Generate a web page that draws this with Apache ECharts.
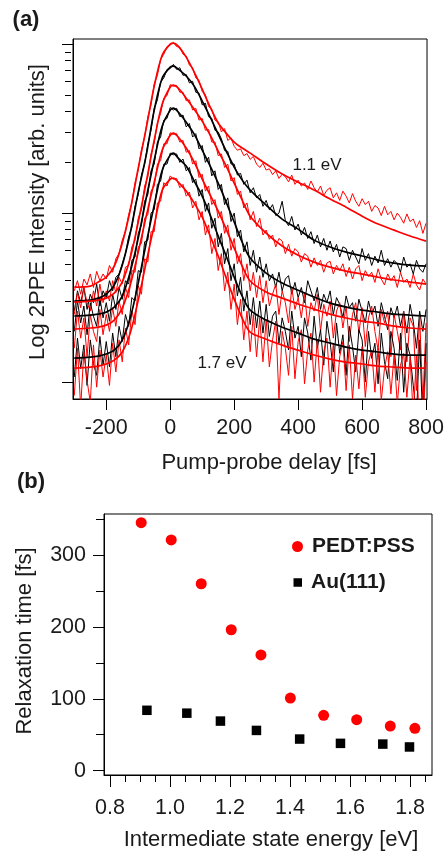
<!DOCTYPE html>
<html>
<head>
<meta charset="utf-8">
<script src="https://cdn.jsdelivr.net/npm/echarts@6/dist/echarts.min.js"></script>
<style>
html,body{margin:0;padding:0;background:#fff;}
#chart{width:447px;height:857px;}
</style>
</head>
<body>
<div id="chart"></div>
<script>
// ---------- Panel (a): log10 of 2PPE intensity, in milli-decades (arb. units) ----------
const delayFs = [-300,-290,-280,-270,-260,-250,-240,-230,-220,-210,-200,-190,-180,-170,-160,-150,-140,-130,-120,-110,-100,-90,-80,-70,-60,-50,-40,-30,-20,-10,0,10,20,30,40,50,60,70,80,90,100,110,120,130,140,150,160,170,180,190,200,210,220,230,240,250,260,270,280,290,300,310,320,330,340,350,360,370,380,390,400,410,420,430,440,450,460,470,480,490,500,510,520,530,540,550,560,570,580,590,600,610,620,630,640,650,660,670,680,690,700,710,720,730,740,750,760,770,780,790,800];

const trace11eV = [540,600,520,610,575,640,560,655,600,640,610,690,650,730,760,840,890,990,1060,1180,1255,1375,1450,1570,1640,1765,1815,1910,1940,1985,1995,2010,1985,1982,1940,1930,1875,1860,1800,1785,1720,1700,1630,1615,1550,1540,1480,1500,1430,1445,
  1395,1372,1380,1340,1352,1318,1335,1290,1270,1295,1255,1262,1228,1250,1205,1230,1215,1185,1225,1170,1195,1160,1178,1140,1190,1150,1125,1160,1105,1135,1150,1090,1120,1075,1130,1100,1060,1115,1070,1040,1085,1050,1070,1010,1045,1030,985,1040,990,1010,960,1000,975,940,995,950,965,915,955,880,940];
const trace12eV = [420,540,470,560,430,520,470,580,450,540,500,600,540,620,640,700,760,860,915,1040,1110,1225,1290,1410,1490,1620,1670,1775,1800,1850,1855,1880,1850,1860,1815,1820,1770,1780,1715,1710,1640,1650,1570,1560,1490,1480,1440,1370,1365,1290,
  1290,1225,1235,1170,1195,1120,1150,1090,1110,1040,1075,1020,1050,985,1000,1070,955,925,980,900,935,870,915,850,890,820,870,800,850,780,835,770,815,740,800,790,720,780,740,700,790,720,760,690,745,705,780,690,730,680,720,700,650,740,680,700,640,720,670,650,700];
const trace13eV = [400,530,440,560,470,420,540,450,580,470,540,480,600,530,620,580,680,690,800,840,970,1020,1160,1215,1350,1415,1535,1590,1680,1695,1760,1750,1755,1715,1715,1665,1670,1610,1620,1550,1560,1490,1495,1420,1420,1340,1350,1270,1290,1190,1210,1110,1130,1030,1060,960,1010,920,970,870,
  900,845,870,800,850,835,760,815,745,790,770,710,760,745,680,735,690,720,650,705,715,640,690,660,700,625,680,610,670,690,600,660,625,650,590,670,610,575,640,600,630,560,650,590,610,560,640,575,545,610,580];
const trace14eV = [300,480,350,450,280,470,390,330,500,380,470,360,520,430,560,490,600,580,720,740,880,930,1070,1110,1250,1290,1420,1450,1550,1560,1625,1610,1620,1570,1580,1510,1530,1450,1470,1380,1400,1300,1330,1220,1250,1140,1170,1050,1090,950,1000,860,900,770,830,690,780,650,740,620,
  700,600,640,560,650,540,610,630,520,590,500,560,470,600,540,480,560,430,520,470,540,400,500,460,380,510,440,470,360,490,420,350,480,400,450,330,470,390,310,440,380,450,330,420,290,460,360,200,420,300,430];
const trace15eV = [200,420,260,380,150,400,300,240,430,280,400,300,440,330,480,400,560,500,660,650,800,820,970,990,1130,1160,1290,1310,1410,1410,1475,1465,1470,1420,1430,1360,1370,1290,1310,1210,1230,1130,1160,1050,1080,970,1010,880,930,780,850,700,760,600,700,540,650,500,630,470,
  600,450,520,580,400,540,470,350,560,430,500,380,530,330,470,420,520,300,460,390,480,260,420,470,320,450,240,400,470,290,440,210,380,450,300,190,430,350,420,150,400,300,190,420,120,380,330,-50,390,-120,350];
const trace16eV = [30,260,80,220,-20,250,110,40,270,100,240,90,290,150,330,240,400,330,500,480,660,650,830,840,1000,1020,1170,1190,1290,1290,1355,1345,1350,1300,1320,1250,1270,1180,1200,1100,1140,1010,1060,910,970,800,880,700,790,600,700,510,620,420,540,340,500,320,480,290,
  460,270,390,420,230,380,300,190,420,260,330,150,380,290,130,390,200,310,100,360,240,60,350,170,280,40,330,210,60,310,250,0,300,140,230,-10,290,120,20,300,200,10,290,-60,230,160,-20,-200,250,-250,230];
const trace17eV = [-80,200,-150,180,10,-120,220,-30,190,30,160,-20,230,60,250,120,320,220,420,340,570,520,730,710,890,890,1060,1070,1180,1160,1220,1200,1205,1150,1170,1100,1125,1030,1070,960,1010,870,930,760,850,660,760,540,650,430,580,340,490,250,420,180,400,150,380,120,
  370,90,250,360,-100,300,200,40,330,20,240,310,-10,190,290,0,250,-60,180,260,-30,230,-80,150,240,-50,220,-100,160,-40,210,-90,120,190,-60,200,-110,80,180,-70,160,-130,100,170,-90,150,-200,160,-300,-250,120];

const fitDelayFs = [-300,-250,-225,-200,-175,-150,-125,-100,-75,-50,-25,0,10,25,50,75,100,125,150,175,200,225,250,300,350,400,450,500,550,600,650,700,750,800];
const fit11eV = [562,568,592,621,686,822,1018,1266,1503,1751,1935,2000,2006,1988,1923,1834,1734,1627,1533,1473,1420,1385,1355,1290,1231,1183,1136,1083,1035,982,935,899,864,834];
const fit12eV = [479,485,497,521,574,692,882,1124,1343,1609,1799,1864,1870,1852,1811,1751,1663,1568,1467,1367,1272,1195,1136,1047,964,905,840,799,769,746,722,704,692,686];
const fit13eV = [473,479,485,497,527,592,734,947,1183,1432,1645,1746,1757,1740,1680,1615,1544,1461,1367,1278,1177,1077,982,882,805,751,710,680,657,639,621,604,592,580];
const fit14eV = [391,396,402,414,444,509,651,852,1089,1314,1515,1609,1621,1598,1538,1467,1373,1278,1177,1065,947,828,734,645,586,544,503,467,444,426,414,402,396,391];
const fit15eV = [314,320,325,337,367,438,574,769,982,1183,1373,1461,1473,1450,1385,1302,1201,1106,1012,905,793,686,598,533,497,462,432,402,379,361,349,331,320,314];
const fit16eV = [142,148,154,166,189,249,379,586,822,1047,1254,1343,1355,1325,1278,1189,1101,988,864,746,621,509,426,367,325,290,254,231,207,189,178,166,160,160];
const fit17eV = [83,89,95,107,130,178,290,485,710,929,1136,1201,1207,1183,1130,1059,976,864,746,615,491,379,296,254,219,189,160,136,118,107,95,89,83,83];

const delayTicks = [-200,0,200,400,600,800];
const decadeTicks = [0,1000,2000];
const subDecadeTicks = [301,477,602,699,778,845,903,954,1301,1477,1602,1699,1778,1845,1903,1954];

// ---------- Panel (b): relaxation times ----------
const pedtEnergy = [0.904,1.004,1.104,1.204,1.303,1.401,1.512,1.622,1.734,1.816];
const pedtTime   = [345,321,260,196,161,101,77,71,62,59];
const auEnergy   = [0.923,1.056,1.168,1.288,1.432,1.568,1.709,1.798];
const auTime     = [84,80,69,56,44,38,37,33];

const energyTicks = [0.8,1.0,1.2,1.4,1.6,1.8];
const energyMinorTicks = [0.85,0.9,0.95,1.05,1.1,1.15,1.25,1.3,1.35,1.45,1.5,1.55,1.65,1.7,1.75,1.85];
const timeTicks = [0,100,200,300];
const timeMinorTicks = [50,150,250,350];

// ---------- build ----------
const FONT = 'Liberation Sans, Arial, sans-serif';
const TXT = '#1a1a1a';
const RED = '#ff0000';
const BLK = '#000000';

const traces = [trace11eV,trace12eV,trace13eV,trace14eV,trace15eV,trace16eV,trace17eV];
const fits = [fit11eV,fit12eV,fit13eV,fit14eV,fit15eV,fit16eV,fit17eV];
const colors = [RED,BLK,RED,BLK,RED,BLK,RED];

const series = [];
traces.forEach((arr,i)=>{
  series.push({
    type:'line', xAxisIndex:0, yAxisIndex:0, silent:true,
    symbol:'none', showSymbol:false, clip:true,
    lineStyle:{color:colors[i], width:1},
    data: delayFs.map((t,k)=>[t,arr[k]])
  });
});
fits.forEach((arr,i)=>{
  series.push({
    type:'line', xAxisIndex:0, yAxisIndex:0, silent:true,
    symbol:'none', showSymbol:false, clip:true, smooth:0.3,
    lineStyle:{color:colors[i], width:1.7},
    data: fitDelayFs.map((t,k)=>[t,arr[k]])
  });
});
series.push({
  name:'PEDT:PSS', type:'scatter', xAxisIndex:1, yAxisIndex:2,
  symbol:'circle', symbolSize:11, itemStyle:{color:RED, opacity:1},
  data: pedtEnergy.map((e,k)=>[e,pedtTime[k]])
});
series.push({
  name:'Au(111)', type:'scatter', xAxisIndex:1, yAxisIndex:2,
  symbol:'rect', symbolSize:9.5, itemStyle:{color:BLK, opacity:1},
  data: auEnergy.map((e,k)=>[e,auTime[k]])
});

const axLine = {show:true, onZero:false, lineStyle:{color:BLK, width:1}};
const tickStyle = {color:BLK, width:1};

const option = {
  animation:false,
  backgroundColor:'#fff',
  textStyle:{fontFamily:FONT},
  grid:[
    {left:73, top:39, width:356, height:360, show:true, borderColor:BLK, borderWidth:1},
    {left:104, top:514, width:328, height:261, show:true, borderColor:BLK, borderWidth:1}
  ],
  xAxis:[
    {gridIndex:0, type:'value', min:-304, max:803, position:'bottom',
     axisLine:axLine, splitLine:{show:false},
     axisTick:{show:true, inside:false, length:11, customValues:delayTicks, lineStyle:tickStyle},
     axisLabel:{customValues:delayTicks, fontSize:21.5, color:TXT, margin:18, fontFamily:FONT}},
    {gridIndex:1, type:'value', min:0.78, max:1.873, position:'bottom',
     axisLine:axLine, splitLine:{show:false},
     axisTick:{show:true, inside:false, length:12, customValues:energyTicks, lineStyle:tickStyle},
     axisLabel:{customValues:energyTicks, fontSize:21.5, color:TXT, margin:22, fontFamily:FONT,
       formatter:(v)=>Number(v).toFixed(1)}},
    {gridIndex:1, type:'value', min:0.78, max:1.873, position:'top', offset:-261,
     axisLine:{show:false, onZero:false}, splitLine:{show:false}, axisLabel:{show:false},
     axisTick:{show:true, inside:true, length:7, customValues:energyMinorTicks, lineStyle:tickStyle}}
  ],
  yAxis:[
    {gridIndex:0, type:'value', min:-100, max:2030, position:'left',
     axisLine:axLine, splitLine:{show:false}, axisLabel:{show:false},
     axisTick:{show:true, inside:false, length:11, customValues:decadeTicks, lineStyle:tickStyle}},
    {gridIndex:0, type:'value', min:-100, max:2030, position:'right', offset:-356,
     axisLine:{show:false, onZero:false}, splitLine:{show:false}, axisLabel:{show:false},
     axisTick:{show:true, inside:true, length:6, customValues:subDecadeTicks, lineStyle:tickStyle}},
    {gridIndex:1, type:'value', min:-6, max:357, position:'left',
     axisLine:axLine, splitLine:{show:false},
     axisTick:{show:true, inside:false, length:11, customValues:timeTicks, lineStyle:tickStyle},
     axisLabel:{customValues:timeTicks, fontSize:21.5, color:TXT, margin:18, fontFamily:FONT}},
    {gridIndex:1, type:'value', min:-6, max:357, position:'right', offset:-328,
     axisLine:{show:false, onZero:false}, splitLine:{show:false}, axisLabel:{show:false},
     axisTick:{show:true, inside:true, length:8, customValues:timeMinorTicks, lineStyle:tickStyle}}
  ],
  legend:[
    {data:['PEDT:PSS'], left:292, top:536, padding:0, selectedMode:false,
     itemWidth:11, itemHeight:11,
     textStyle:{fontSize:21, fontWeight:'bold', color:TXT, fontFamily:FONT, padding:[0,0,0,4]}},
    {data:['Au(111)'], left:293.5, top:572, padding:0, selectedMode:false,
     itemWidth:8.5, itemHeight:8.5,
     textStyle:{fontSize:21, fontWeight:'bold', color:TXT, fontFamily:FONT, padding:[0,0,0,4]}}
  ],
  graphic:[
    {type:'text', x:26, y:20, style:{text:'(a)', font:'bold 22px '+FONT, fill:TXT, align:'center', verticalAlign:'middle'}},
    {type:'text', x:31, y:482, style:{text:'(b)', font:'bold 22px '+FONT, fill:TXT, align:'center', verticalAlign:'middle'}},
    {type:'text', x:269, y:463, style:{text:'Pump-probe delay [fs]', font:'22px '+FONT, fill:TXT, align:'center', verticalAlign:'middle'}},
    {type:'text', x:271, y:840, style:{text:'Intermediate state energy [eV]', font:'22px '+FONT, fill:TXT, align:'center', verticalAlign:'middle'}},
    {type:'text', x:37.5, y:212, rotation:Math.PI/2, style:{text:'Log 2PPE Intensity [arb. units]', font:'22px '+FONT, fill:TXT, align:'center', verticalAlign:'middle'}},
    {type:'text', x:25, y:641, rotation:Math.PI/2, style:{text:'Relaxation time [fs]', font:'22px '+FONT, fill:TXT, align:'center', verticalAlign:'middle'}},
    {type:'text', x:317, y:165, style:{text:'1.1 eV', font:'17px '+FONT, fill:TXT, align:'center', verticalAlign:'middle'}},
    {type:'text', x:222, y:363, style:{text:'1.7 eV', font:'17px '+FONT, fill:TXT, align:'center', verticalAlign:'middle'}}
  ],
  series:series
};

const chart = echarts.init(document.getElementById('chart'), null, {renderer:'canvas'});
chart.setOption(option);
</script>
</body>
</html>
